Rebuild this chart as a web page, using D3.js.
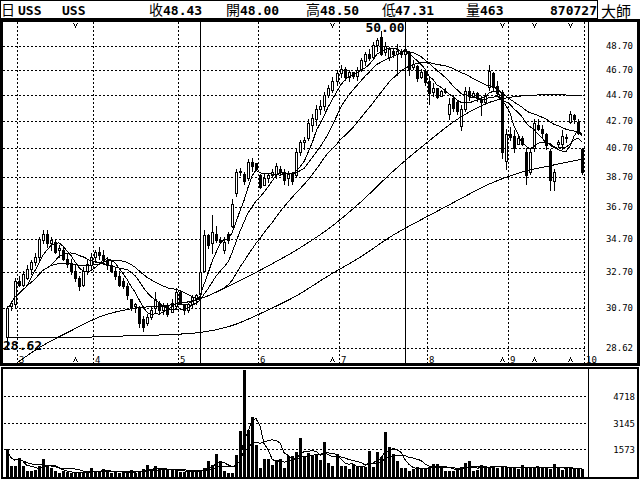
<!DOCTYPE html>
<html>
<head>
<meta charset="utf-8">
<script src="https://cdn.jsdelivr.net/npm/d3@7"></script>
<style>
body { margin: 0; background: #fff; }
svg { display: block; }
.mono { font-family: "DejaVu Sans Mono", "Liberation Mono", monospace; }
.cjk { font-family: "Noto Sans CJK TC", "Noto Sans CJK SC", sans-serif; }
</style>
</head>
<body>
<div id="container"></div>
<script>
var symbol = "USS";
var cursorDate = "870727";
var cursorIdx = 99;
var markIdx = [48, 99];
var caretIdx = [17, 81, 123, 131, 140];

var monthLabels = ["3", "4", "5", "6", "7", "8", "9", "10"];
var monthStarts = [3, 22, 43, 63, 83, 105, 125, 144];

var priceTicks = [48.70, 46.70, 44.70, 42.70, 40.70, 38.70, 36.70, 34.70, 32.70, 30.70, 28.62];
var volTicks = [1573, 3145, 4718];

var opens = [29.2,30.8,30.9,32.2,32.0,32.4,32.9,33.3,33.6,34.6, 35.0,34.4,34.5,34.0,34.0,33.5,33.2,32.8,32.4,32.0,
  32.8,33.1,33.6,33.9,33.7,33.4,33.1,32.8,32.5,32.2, 31.9,31.2,30.8,30.7,30.1,29.9,30.2,30.7,31.0,30.6,
  30.8,30.5,30.8,31.6,30.9,30.6,30.9,31.2,31.5,32.8, 34.9,34.4,35.0,34.6,34.0,35.0,35.5,37.6,39.0,38.9,
  38.6,39.7,39.6,38.8,38.1,38.6,38.8,38.9,39.2,39.0, 38.6,38.9,38.8,40.4,41.1,41.4,42.4,42.8,43.6,43.8,
  44.7,45.1,45.8,46.4,46.8,46.1,46.5,46.2,46.7,47.4, 48.0,47.8,48.8,49.5,48.2,47.8,48.3,48.0,48.3,48.00,
  48.2,46.9,47.0,46.1,46.6,45.8,44.9,45.2,44.6,45.0, 43.2,44.4,44.1,42.3,43.6,45.0,44.6,44.8,44.3,44.1,
  45.3,46.4,45.4,44.9,39.8,41.7,41.6,41.0,41.4,40.4, 39.0,40.7,42.4,42.1,41.7,40.5,38.4,41.0,41.0,41.4,
  42.6,43.1,42.6,40.6];
var highs = [30.8,31.1,32.4,32.5,32.8,33.1,33.4,33.8,34.8,35.2, 35.2,34.8,34.7,34.3,34.2,33.8,33.5,33.2,32.5,33.0,
  33.4,33.8,34.0,34.2,34.0,33.6,33.4,33.0,32.8,32.4, 32.1,31.2,31.0,30.8,30.3,30.4,30.8,31.6,31.1,31.0,
  31.0,31.2,31.8,31.7,30.9,31.0,31.4,31.5,32.9,35.2, 35.0,36.2,35.5,34.8,34.8,35.1,37.2,39.2,39.3,39.0,
  39.9,40.0,39.6,38.9,38.9,38.9,39.2,39.6,39.4,39.2, 39.1,39.0,40.6,41.3,41.5,42.8,43.2,43.9,44.3,44.9,
  45.5,46.1,46.7,47.1,46.9,46.7,46.5,46.9,47.7,48.2, 48.4,49.0,49.4,50.0,49.0,48.6,48.4,48.9,48.4,48.50,
  48.3,47.5,47.1,46.8,46.7,46.2,45.6,45.2,45.1,45.2, 44.4,44.7,44.3,43.9,45.3,45.3,45.0,44.9,44.6,44.8,
  47.1,46.5,45.8,45.1,42.1,42.2,42.0,41.7,41.6,40.7, 40.6,42.8,42.8,42.4,41.8,40.6,39.2,41.3,42.0,41.7,
  43.4,43.2,42.8,40.7];
var lows = [28.62,30.6,30.7,31.9,31.9,32.3,32.6,33.1,33.4,34.4, 34.2,34.0,33.8,33.6,33.4,33.0,32.6,32.2,31.7,31.9,
  32.6,32.9,33.3,33.5,33.2,32.9,32.7,32.3,31.9,31.8, 31.2,30.6,30.5,29.7,29.5,29.8,30.1,30.5,30.4,30.4,
  30.3,30.5,30.7,30.9,30.4,30.5,30.7,30.9,31.4,32.7, 34.1,33.8,34.5,34.4,33.8,34.4,35.4,37.4,38.8,38.2,
  38.5,39.1,39.2,37.9,38.1,38.3,38.7,38.6,38.8,38.2, 38.1,38.2,38.7,40.2,40.6,41.3,41.9,42.4,43.2,43.5,
  44.5,44.9,45.5,46.1,45.9,45.8,46.0,45.9,46.6,47.1, 47.5,47.7,48.3,47.9,47.9,47.5,47.8,46.3,47.8,47.31,
  46.3,46.8,45.8,46.0,45.5,44.0,44.6,44.4,44.6,44.8, 42.8,43.4,43.2,42.0,43.4,44.3,44.6,44.2,43.1,44.0,
  45.1,45.1,44.6,40.0,39.2,41.3,40.4,41.0,40.9,38.2, 38.9,40.5,42.0,41.5,40.6,37.8,37.8,40.8,40.6,41.1,
  42.5,42.5,41.7,38.9];
var closes = [30.7,31.0,32.2,32.0,32.6,32.9,33.3,33.6,34.7,35.0, 34.4,34.6,33.9,34.1,33.5,33.2,32.8,32.4,31.9,32.8,
  33.2,33.6,33.9,33.7,33.4,33.1,32.8,32.5,32.0,31.9, 31.4,30.7,30.9,29.9,29.7,30.2,30.6,31.2,30.6,30.8,
  30.4,31.0,31.6,31.0,30.6,30.9,31.3,31.4,32.7,34.9, 34.3,35.1,34.6,34.5,34.5,34.6,36.9,39.0,39.1,38.4,
  39.7,39.4,39.2,38.0,38.6,38.8,39.0,39.4,39.0,38.5, 38.9,38.4,40.4,41.1,41.3,42.5,42.9,43.6,43.8,44.7,
  45.2,45.8,46.4,46.8,46.1,46.5,46.2,46.7,47.5,48.0, 47.7,48.8,49.2,48.0,48.7,48.4,48.0,48.3,48.0,48.43,
  46.8,47.2,46.0,46.5,45.7,44.8,45.2,44.5,45.0,44.9, 44.0,43.7,43.4,43.6,45.0,44.6,44.8,44.4,44.1,44.6,
  46.6,45.3,44.8,40.4,41.7,41.5,40.7,41.4,41.0,38.8, 40.4,42.5,42.1,41.8,40.9,38.5,39.0,41.1,41.6,41.5,
  43.2,42.8,41.8,39.0];
var volumes = [1615,600,600,1080,600,300,300,350,600,1020, 600,500,300,150,300,250,200,200,200,200,
  200,450,250,300,400,300,200,250,150,200, 250,350,200,300,400,650,300,600,400,350,
  350,350,300,250,250,250,300,300,300,450, 900,650,1300,870,300,200,200,1260,2630,6291,
  2700,3470,1850,480,1010,1010,650,960,1010,450, 1200,1200,1390,2270,1150,1350,1260,1300,960,1990,
  780,600,1300,600,600,410,720,560,560,560, 1500,560,1390,1150,2610,1710,1320,900,480,463,
  280,400,560,460,480,500,700,700,520,300, 300,300,360,560,780,900,300,360,650,560,
  520,560,500,520,560,460,460,420,650,460, 500,560,520,460,460,420,680,460,360,420,
  460,460,420,420];

// long averages (they need history before the window)
var longIdx = [0, 8, 16, 24, 32, 40, 48, 56, 64, 72, 80, 88, 96, 104, 112, 120, 128, 136, 143];
var ma72 = [27.5, 28.62, 29.5, 30.3, 30.7, 30.85, 31.2, 32.0, 32.94, 34.0, 35.3, 37.0, 39.05, 40.97, 42.8, 44.1, 44.6, 44.7, 44.6];
var ma144 = [29.15, 29.15, 29.15, 29.2, 29.25, 29.3, 29.41, 29.77, 30.5, 31.37, 32.5, 33.6, 34.9, 36.0, 37.1, 38.2, 39.0, 39.5, 39.9];

var priceMA = [6, 12, 24];
var volMA = [5, 10];

function movingAvg(arr, n) {
	return arr.map(function(d, i) {
		return d3.mean(arr.slice(Math.max(0, i - n + 1), i + 1));
	});
}

var plotL = 3, plotR = 588, plotT = 22, plotB = 363;
var volT = 368, volB = 478, volBase = 476;

var lowIdx = d3.minIndex(lows), highIdx = d3.maxIndex(highs);
var x = d3.scaleLinear().domain([0, closes.length - 1]).range([6.5, 582]);
var y = d3.scaleLog().domain([lows[lowIdx], highs[highIdx]]).range([348, 31]);
var yv = d3.scaleLinear().domain([0, d3.max(volumes)]).range([volBase, 369.5]);
function px(i) { return Math.round(x(i)); }

var svg = d3.select("#container").append("svg")
	.attr("width", 640)
	.attr("height", 480)
	.attr("shape-rendering", "crispEdges");

svg.append("rect").attr("width", 640).attr("height", 480).attr("fill", "#fff");

svg.append("clipPath").attr("id", "pclip")
	.append("rect").attr("x", plotL).attr("y", plotT).attr("width", plotR - plotL).attr("height", plotB - plotT);

/* header */
var head = svg.append("g");
head.append("rect").attr("x", 0.5).attr("y", 0.5).attr("width", 597).attr("height", 18)
	.attr("fill", "none").attr("stroke", "#000");

var headCjk = [[1, "日"], [149, "收"], [226, "開"], [306, "高"], [382, "低"], [466, "量"]];
var headVals = [[18, symbol], [62, symbol],
	[163, closes[cursorIdx].toFixed(2)], [240, opens[cursorIdx].toFixed(2)],
	[320, highs[cursorIdx].toFixed(2)], [395, lows[cursorIdx].toFixed(2)],
	[480, String(volumes[cursorIdx])]];

head.selectAll(".hc").data(headCjk).enter().append("text")
	.attr("class", "cjk").attr("x", function(d) { return d[0]; }).attr("y", 15)
	.style("font-size", "14px").text(function(d) { return d[1]; });
head.selectAll(".hv").data(headVals).enter().append("text")
	.attr("class", "mono").attr("x", function(d) { return d[0]; }).attr("y", 15)
	.style("font-size", "13px").style("font-weight", "bold").text(function(d) { return d[1]; });
head.append("text").attr("class", "mono").attr("x", 597).attr("y", 15)
	.attr("text-anchor", "end").style("font-size", "13px").style("font-weight", "bold")
	.text(cursorDate);
head.append("text").attr("class", "cjk").attr("x", 601).attr("y", 17)
	.style("font-size", "15px").text("大師");

/* grid */
var grid = svg.append("g").attr("stroke", "#000").attr("stroke-dasharray", "2,2");
grid.selectAll(".hg").data(priceTicks).enter().append("line")
	.attr("x1", plotL).attr("x2", plotR - 1)
	.attr("y1", function(d) { return Math.round(y(d)) + 0.5; })
	.attr("y2", function(d) { return Math.round(y(d)) + 0.5; });
grid.selectAll(".vg").data(monthStarts).enter().append("line")
	.attr("x1", function(d) { return Math.round(x(d) - 2) + 0.5; })
	.attr("x2", function(d) { return Math.round(x(d) - 2) + 0.5; })
	.attr("y1", plotT).attr("y2", plotB);
grid.selectAll(".vv").data(volTicks).enter().append("line")
	.attr("x1", 4).attr("x2", plotR - 1)
	.attr("y1", function(d) { return Math.round(yv(d)) + 0.5; })
	.attr("y2", function(d) { return Math.round(yv(d)) + 0.5; });

svg.selectAll(".mk").data(markIdx).enter().append("line")
	.attr("x1", function(d) { return px(d) + 0.5; })
	.attr("x2", function(d) { return px(d) + 0.5; })
	.attr("y1", plotT).attr("y2", plotB).attr("stroke", "#000");

/* candles */
var main = svg.append("g").attr("clip-path", "url(#pclip)");
var idx = d3.range(closes.length);

main.selectAll(".wick").data(idx).enter().append("line")
	.attr("x1", function(i) { return px(i) + 0.5; })
	.attr("x2", function(i) { return px(i) + 0.5; })
	.attr("y1", function(i) { return Math.round(y(highs[i])); })
	.attr("y2", function(i) { return Math.round(y(lows[i])) + 1; })
	.attr("stroke", "#000");

main.selectAll(".body").data(idx).enter().append("rect")
	.each(function(i) {
		var up = closes[i] >= opens[i];
		var t = Math.round(y(Math.max(opens[i], closes[i])));
		var b = Math.round(y(Math.min(opens[i], closes[i])));
		var r = d3.select(this);
		if (up) {
			r.attr("x", px(i) - 0.5).attr("y", t + 0.5).attr("width", 2).attr("height", Math.max(b - t, 1))
				.attr("fill", "#fff").attr("stroke", "#000");
		} else {
			r.attr("x", px(i) - 1).attr("y", t).attr("width", 3).attr("height", Math.max(b - t, 1) + 1)
				.attr("fill", "#000");
		}
	});

/* moving averages */
var line = d3.line()
	.x(function(d) { return x(d[0]); })
	.y(function(d) { return y(d[1]); });

priceMA.forEach(function(n) {
	var m = movingAvg(closes, n);
	main.append("path")
		.datum(idx.map(function(i) { return [i, m[i]]; }))
		.attr("d", line).attr("fill", "none").attr("stroke", "#000");
});
[ma72, ma144].forEach(function(s) {
	main.append("path")
		.datum(longIdx.map(function(i, k) { return [i, s[k]]; }))
		.attr("d", line.curve(d3.curveMonotoneX)).attr("fill", "none").attr("stroke", "#000");
	line.curve(d3.curveLinear);
});

/* high / low marks */
main.append("text").attr("class", "mono").attr("x", px(highIdx) + 4).attr("y", 32)
	.attr("text-anchor", "middle").style("font-size", "13px").style("font-weight", "bold")
	.text(highs[highIdx].toFixed(2));
main.append("text").attr("class", "mono").attr("x", 3).attr("y", 350)
	.style("font-size", "13px").style("font-weight", "bold")
	.text(lows[lowIdx].toFixed(2));

caretIdx.forEach(function(i) {
	var cx = px(i) + 0.5;
	svg.append("path").attr("d", "M" + (cx - 2) + ",23L" + cx + ",27L" + (cx + 2) + ",23")
		.attr("fill", "none").attr("stroke", "#000");
	svg.append("path").attr("d", "M" + (cx - 2) + ",362L" + cx + ",358L" + (cx + 2) + ",362")
		.attr("fill", "none").attr("stroke", "#000");
});

/* month labels */
svg.selectAll(".ml").data(monthStarts).enter().append("text")
	.attr("class", "mono").attr("x", function(d) { return Math.round(x(d) - 2) + 2; })
	.attr("y", 363).style("font-size", "9px")
	.text(function(d, k) { return monthLabels[k]; });

/* volume */
var vol = svg.append("g");
vol.selectAll(".vb").data(idx).enter().append("rect")
	.attr("x", function(i) { return px(i) - 1; })
	.attr("y", function(i) { return Math.round(yv(volumes[i])); })
	.attr("width", 3)
	.attr("height", function(i) { return volBase - Math.round(yv(volumes[i])) + 1; })
	.attr("fill", "#000");
var vline = d3.line()
	.x(function(d) { return x(d[0]); })
	.y(function(d) { return yv(d[1]); });
volMA.forEach(function(n) {
	var m = movingAvg(volumes, n);
	vol.append("path")
		.datum(idx.map(function(i) { return [i, m[i]]; }))
		.attr("d", vline).attr("fill", "none").attr("stroke", "#000");
});

/* frames */
svg.append("rect").attr("x", 0).attr("y", 19).attr("width", 640).attr("height", 3);
svg.append("rect").attr("x", 0).attr("y", 19).attr("width", 3).attr("height", 347);
svg.append("rect").attr("x", 637).attr("y", 19).attr("width", 3).attr("height", 347);
svg.append("rect").attr("x", 0).attr("y", 363).attr("width", 640).attr("height", 3);
svg.append("line").attr("x1", plotR + 0.5).attr("x2", plotR + 0.5).attr("y1", plotT).attr("y2", plotB)
	.attr("stroke", "#000");
svg.append("rect").attr("x", 2).attr("y", volT).attr("width", 636).attr("height", volB - volT)
	.attr("fill", "none").attr("stroke", "#000").attr("stroke-width", 2);
svg.append("line").attr("x1", plotR + 0.5).attr("x2", plotR + 0.5).attr("y1", volT).attr("y2", volB)
	.attr("stroke", "#000");

/* axis labels */
svg.selectAll(".pl").data(priceTicks).enter().append("text")
	.attr("class", "mono").attr("x", 633).attr("y", function(d) { return Math.round(y(d)) + 3; })
	.attr("text-anchor", "end").style("font-size", "9px")
	.text(function(d) { return d.toFixed(2); });
svg.selectAll(".vl").data(volTicks).enter().append("text")
	.attr("class", "mono").attr("x", 635).attr("y", function(d) { return Math.round(yv(d)) + 4; })
	.attr("text-anchor", "end").style("font-size", "9px")
	.text(function(d) { return d; });
</script>
</body>
</html>
